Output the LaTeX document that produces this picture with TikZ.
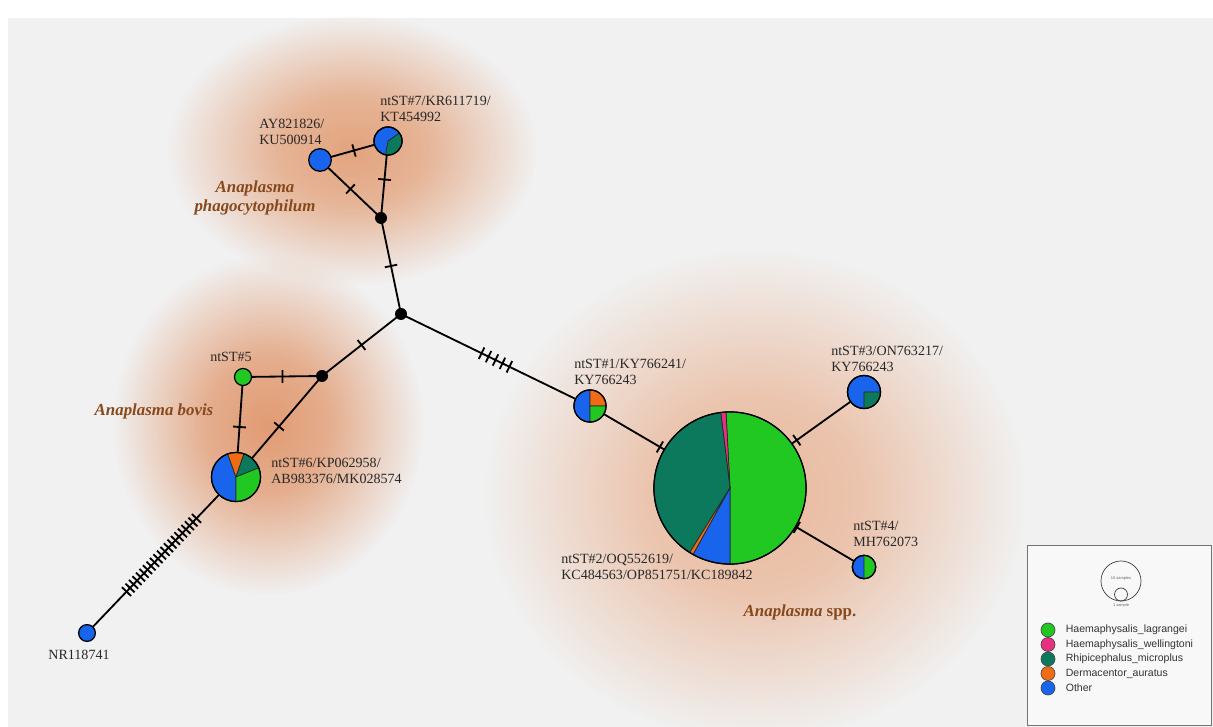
\documentclass[tikz,border=0pt]{standalone}
\usepackage{fontspec}
\setmainfont{Liberation Serif}
\setsansfont{Liberation Sans}
\usetikzlibrary{positioning, decorations.markings, fadings}

\definecolor{hlag}{RGB}{34,200,34}
\definecolor{hwel}{RGB}{232,48,128}
\definecolor{rmic}{RGB}{12,120,92}
\definecolor{daur}{RGB}{240,108,20}
\definecolor{other}{RGB}{24,100,236}
\definecolor{bggray}{RGB}{241,241,241}
\definecolor{glow}{RGB}{224,148,104}
\definecolor{speciescol}{RGB}{135,72,28}
\definecolor{labelcol}{RGB}{40,40,40}

% soft orange clouds behind the groups
\pgfdeclareradialshading{blobshade}{\pgfpointorigin}{color(0bp)=(white!92!black); color(10bp)=(white!72!black); color(25bp)=(black); color(50bp)=(black)}
\pgfdeclarefading{blob}{\pgfuseshading{blobshade}}

\pgfdeclarelayer{bg}
\pgfdeclarelayer{edges}
\pgfsetlayers{bg,edges,main}

% node, radius, from, to, colour
\newcommand{\pieslice}[5]{%
  \filldraw[fill=#5, draw=black!85, line width=0.5pt] (#1.center) -- +(#3:#2) arc[start angle=#3, end angle=#4, radius=#2] -- cycle;}
\newcommand{\pierim}[2]{\draw[line width=0.9pt] (#1.center) circle[radius=#2];}

\begin{document}
\begin{tikzpicture}[
    x=0.025cm, y=0.025cm,
    hap/.style={circle, draw=black, line width=0.9pt, inner sep=0pt},
    med/.style={circle, fill=black, inner sep=0pt, minimum size=0.3cm},
    link/.style={line width=1.3pt},
    bars/.style 2 args={postaction={decorate}, decoration={markings,
        mark=at position 0.5 with {\foreach \k in {1,...,#1} {\draw[line width=1.3pt] ({(\k-(#1+1)/2)*#2},-4.5pt) -- ++(0pt,9pt);}}}},
    hlabel/.style={font=\fontsize{10}{11.3}\selectfont, text=labelcol, align=left, inner sep=0pt},
    species/.style={font=\fontsize{12}{14}\selectfont\bfseries\itshape, text=speciescol, align=center},
    legdot/.style={circle, draw=black!70, line width=0.5pt, inner sep=0pt, minimum size=0.35cm},
    legtext/.style={font=\sffamily\fontsize{7.5}{9}\selectfont, text=black!80, inner sep=1pt}
]
\useasboundingbox (0,0) rectangle (1213,-727);

% Background and clouds
\begin{pgfonlayer}{bg}
\fill[white] (0,0) rectangle (1213,-727);
\fill[bggray] (8,-18) rectangle (1213,-727);
\fill[glow!92!white, path fading=blob] (352,-150) ellipse[x radius=185, y radius=135];
\fill[glow, path fading=blob] (268,-425) ellipse[x radius=155, y radius=170];
\fill[glow!70!white, path fading=blob] (755,-495) ellipse[x radius=270, y radius=245];
\end{pgfonlayer}

% Haplotypes
\node[hap, fill=other, minimum size=0.565cm] (ay) at (320,-160) {};
\node[hap, fill=other, minimum size=0.7cm] (st7) at (388,-141) {};
\node[med] (jtop) at (381,-218) {};
\node[med] (jc) at (401,-314) {};
\node[med] (jbov) at (322,-376) {};
\node[hap, fill=hlag, minimum size=0.425cm] (st5) at (243,-377) {};
\node[hap, fill=other, minimum size=1.225cm] (st6) at (236,-477) {};
\node[hap, fill=other, minimum size=0.42cm] (nr) at (87,-633) {};
\node[hap, fill=other, minimum size=0.8cm] (st1) at (590,-406) {};
\node[hap, fill=hlag, minimum size=3.8cm] (st2) at (730,-488) {};
\node[hap, fill=other, minimum size=0.825cm] (st3) at (864,-392) {};
\node[hap, fill=other, minimum size=0.585cm] (st4) at (864,-567) {};

% Pie slices
\pieslice{st7}{14}{-100}{35}{rmic}
\pierim{st7}{14}
\pieslice{st6}{24.5}{110}{270}{other}
\pieslice{st6}{24.5}{71}{110}{daur}
\pieslice{st6}{24.5}{22}{71}{rmic}
\pieslice{st6}{24.5}{-90}{22}{hlag}
\pierim{st6}{24.5}
\pieslice{st1}{16}{90}{270}{other}
\pieslice{st1}{16}{0}{90}{daur}
\pieslice{st1}{16}{-90}{0}{hlag}
\pierim{st1}{16}
\pieslice{st2}{76}{-90}{93}{hlag}
\pieslice{st2}{76}{93}{97}{hwel}
\pieslice{st2}{76}{97}{238}{rmic}
\pieslice{st2}{76}{238}{241}{daur}
\pieslice{st2}{76}{241}{270}{other}
\pierim{st2}{76}
\pieslice{st3}{16.5}{-90}{0}{rmic}
\pierim{st3}{16.5}
\pieslice{st4}{11.7}{-90}{90}{hlag}
\pierim{st4}{11.7}

% Mutation links
\begin{pgfonlayer}{edges}
\draw[link, bars={1}{0pt}] (ay.center) -- (st7.center);
\draw[link, bars={1}{0pt}] (ay.center) -- (jtop.center);
\draw[link, bars={1}{0pt}] (st7.center) -- (jtop.center);
\draw[link, bars={1}{0pt}] (jtop.center) -- (jc.center);
\draw[link, bars={1}{0pt}] (jc.center) -- (jbov.center);
\draw[link, bars={1}{0pt}] (jbov.center) -- (st5.center);
\draw[link, bars={1}{0pt}] (jbov.center) -- (st6.center);
\draw[link, bars={1}{0pt}] (st5.center) -- (st6.center);
\draw[link, bars={21}{3.6pt}] (st6.center) -- (nr.center);
\draw[link, bars={5}{5.5pt}] (jc.center) -- (st1.center);
\draw[link, bars={1}{0pt}] (st1.center) -- (st2.center);
\draw[link, bars={1}{0pt}] (st2.center) -- (st3.center);
\draw[link, bars={1}{0pt}] (st2.center) -- (st4.center);
\end{pgfonlayer}

% Haplotype labels
\node[hlabel, anchor=west] (ayl) at (259,-132) {AY821826/\\KU500914};
\node[hlabel, anchor=west] (st7l) at (380,-109) {ntST\#7/KR611719/\\KT454992};
\node[hlabel] (st5l) at (231,-357) {ntST\#5};
\node[hlabel, anchor=west] (st6l) at (271,-471) {ntST\#6/KP062958/\\AB983376/MK028574};
\node[hlabel] (nrl) at (79,-655) {NR118741};
\node[hlabel, anchor=west] (st1l) at (574,-372) {ntST\#1/KY766241/\\KY766243};
\node[hlabel, anchor=west] (st2l) at (561,-567) {ntST\#2/OQ552619/\\KC484563/OP851751/KC189842};
\node[hlabel, anchor=west] (st3l) at (831,-359) {ntST\#3/ON763217/\\KY766243};
\node[hlabel, anchor=west] (st4l) at (853,-534) {ntST\#4/\\MH762073};

% Species groups
\node[species] (phago) at (255,-198) {Anaplasma\\phagocytophilum};
\node[species] (bovis) at (154,-411) {Anaplasma bovis};
\node[species] (spp) at (800,-612) {Anaplasma \textup{spp.}};

% Legend
\draw[black!55, fill=white!50!bggray, line width=0.6pt] (1027,-545) rectangle (1211,-725);
\node[circle, draw=black!75, line width=0.5pt, minimum size=1cm, inner sep=0pt] (ten) at (1121,-581) {};
\node[circle, draw=black!75, line width=0.5pt, minimum size=0.325cm, inner sep=0pt, anchor=south] (one) at (ten.south) {};
\node[font=\sffamily\fontsize{2.8}{3}\selectfont, text=black!60, inner sep=0pt] (tenl) at (1121,-578) {10 samples};
\node[font=\sffamily\fontsize{2.8}{3}\selectfont, text=black!60, below=1.5pt of one, inner sep=0pt] (onel) {1 sample};
\node[legdot, fill=hlag] (lg1) at (1048,-630) {};
\node[legdot, fill=hwel] (lg2) at (1048,-644.5) {};
\node[legdot, fill=rmic] (lg3) at (1048,-659) {};
\node[legdot, fill=daur] (lg4) at (1048,-673.5) {};
\node[legdot, fill=other] (lg5) at (1048,-688) {};
\node[legtext, right=0.22cm of lg1] {Haemaphysalis\_lagrangei};
\node[legtext, right=0.22cm of lg2] {Haemaphysalis\_wellingtoni};
\node[legtext, right=0.22cm of lg3] {Rhipicephalus\_microplus};
\node[legtext, right=0.22cm of lg4] {Dermacentor\_auratus};
\node[legtext, right=0.22cm of lg5] {Other};
\end{tikzpicture}
\end{document}
